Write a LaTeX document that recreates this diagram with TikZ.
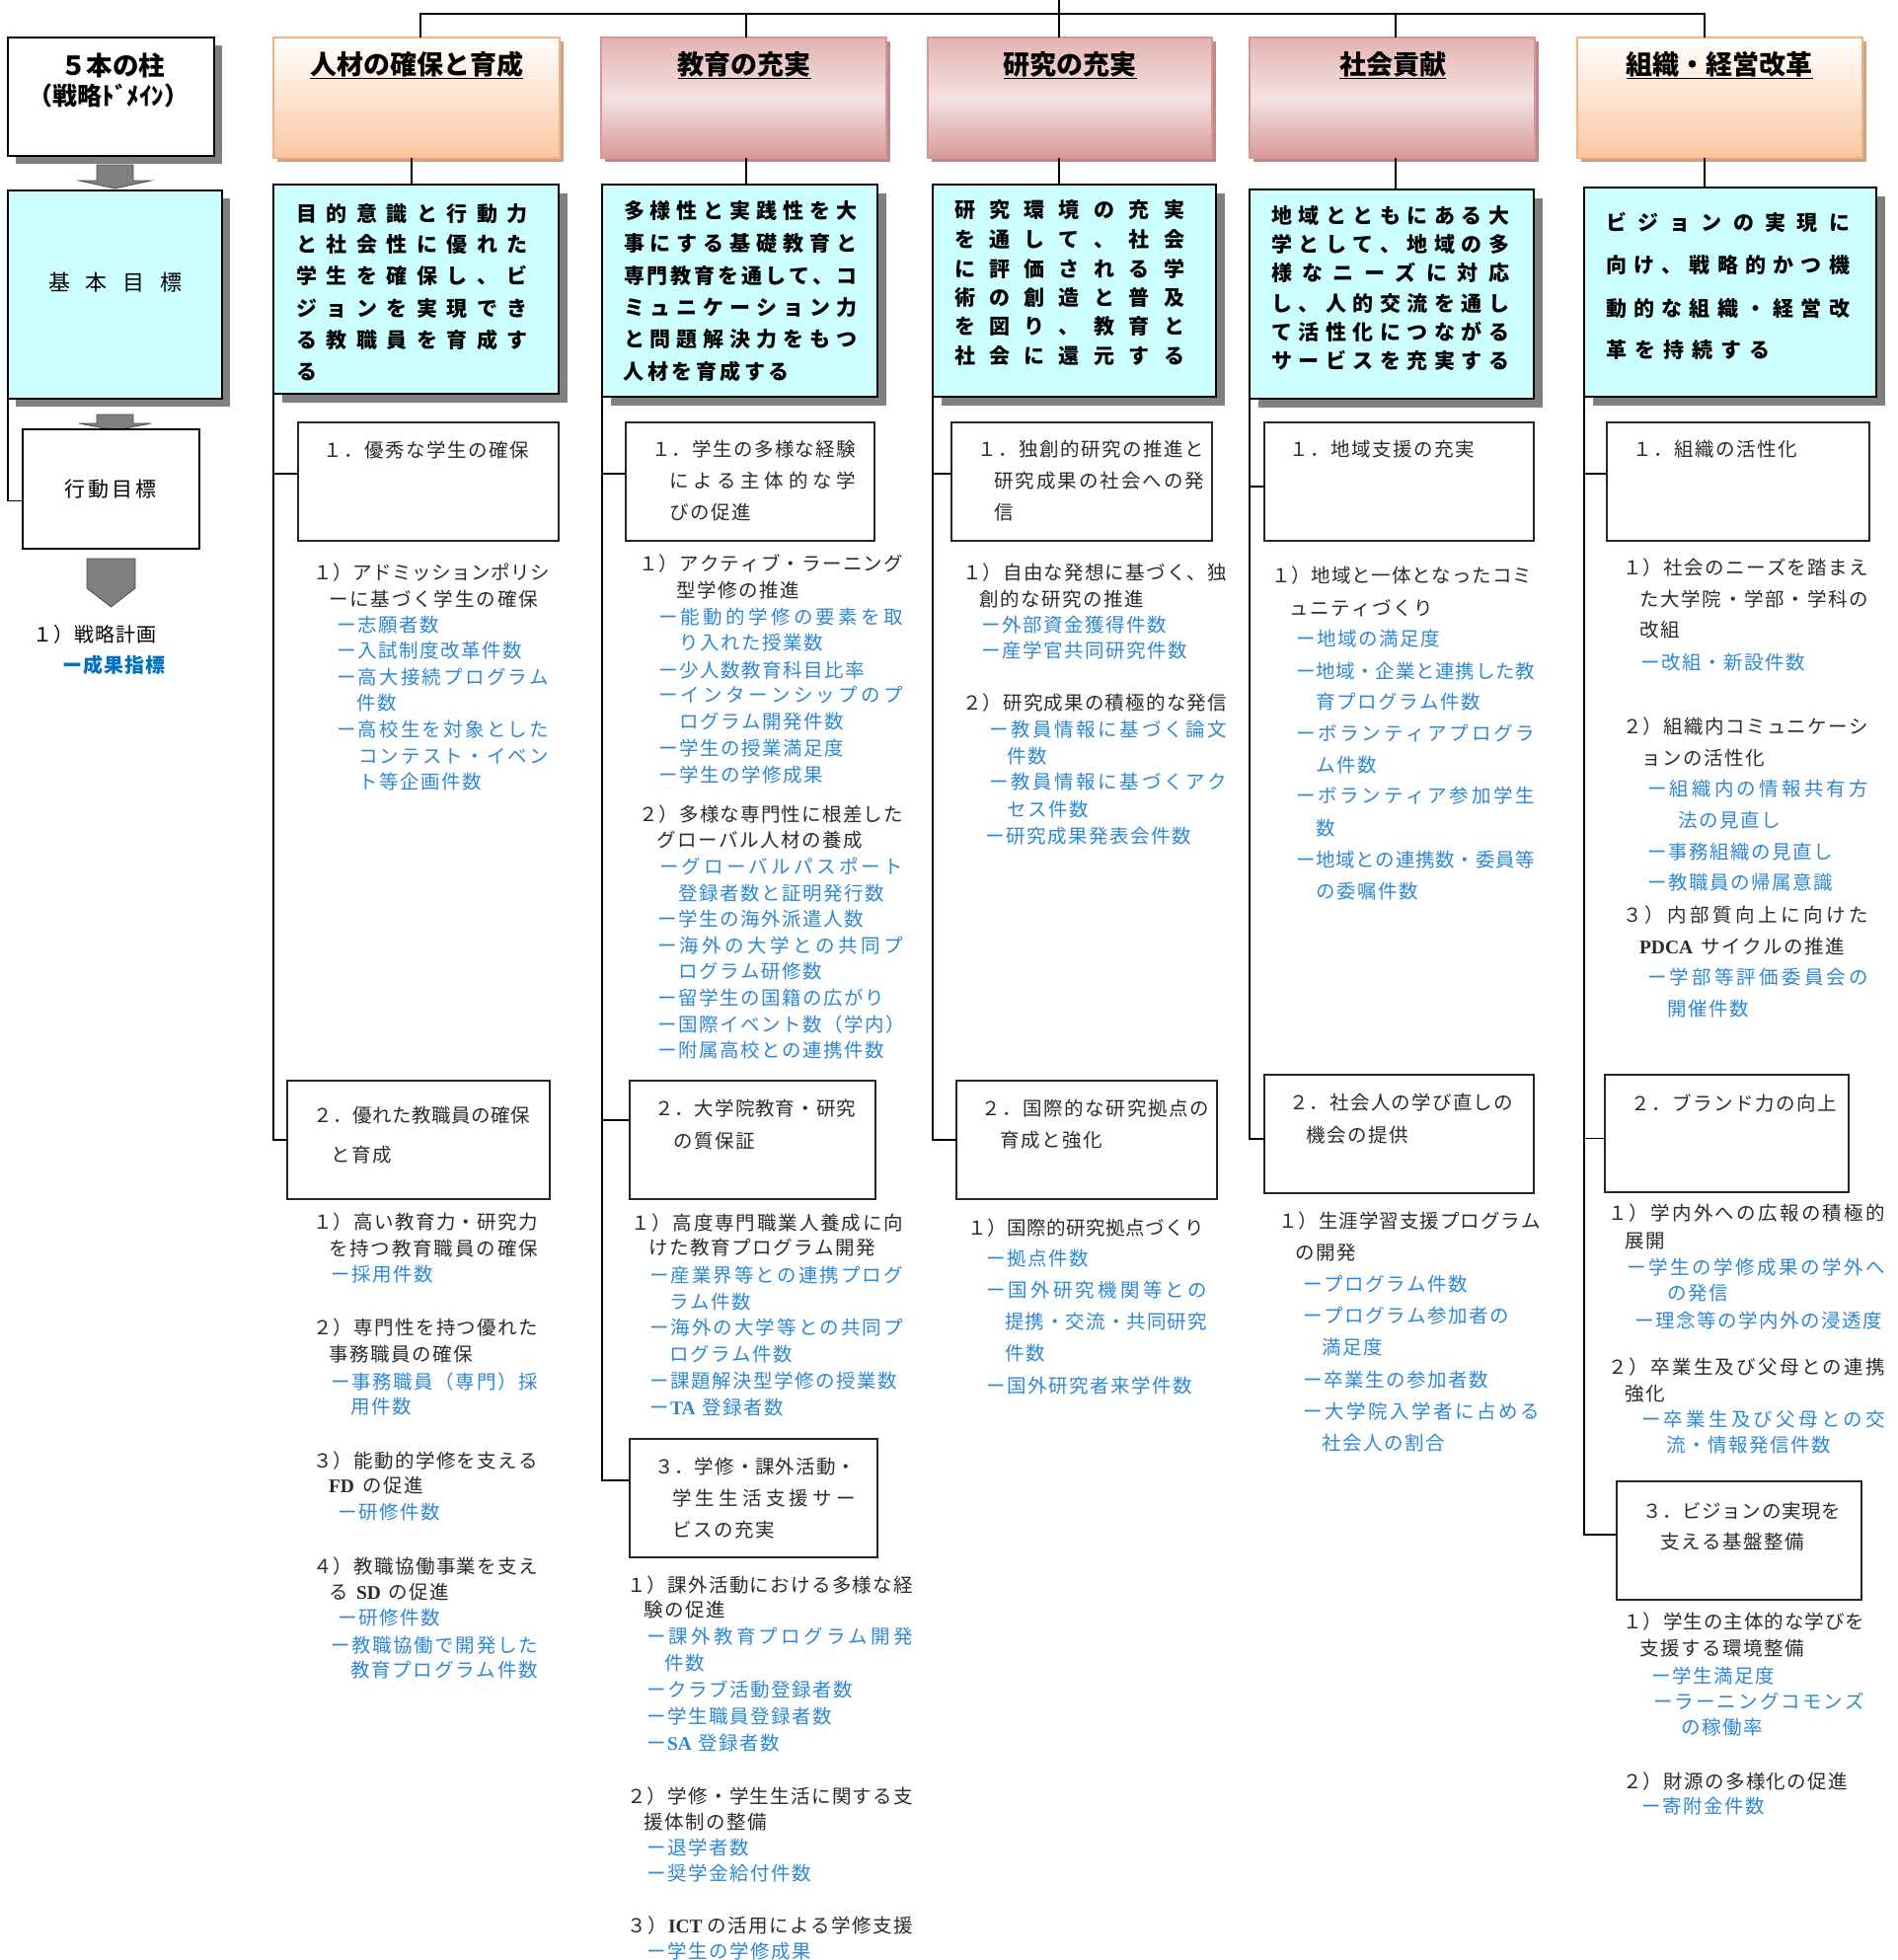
\documentclass[tikz,border=0pt]{standalone}
\usepackage{fontspec}
\setmainfont{Noto Sans CJK JP}
\newfontfamily\latser{Liberation Serif}
\newcommand\latb{\latser\bfseries}
\newcommand\strutx{\vrule width 0pt height 0.88em depth 0.12em\relax}
\makeatletter
\newcommand\cchars[2]{\def\cc@w{#1}\cc@a#2\relax}
\def\cc@a#1{\ifx\relax#1\else\makebox[\cc@w][c]{#1}\expandafter\cc@a\fi}
\newcommand\jchars[2]{\makebox[#1][s]{\jc@a#2\relax}}
\def\jc@a#1{#1\jc@b}
\def\jc@b#1{\ifx\relax#1\else\hfil#1\expandafter\jc@b\fi}
\makeatother
\newcounter{tl}
\newcommand\TC[5]{\stepcounter{tl}\node[#1] (t\arabic{tl}) at (#2,#3) {\strutx\cchars{#4pt}{#5}};}
\newcommand\TN[4]{\TC{#1}{#2}{#3}{21}{#4}}
\newcommand\TJ[5]{\stepcounter{tl}\node[#1] (t\arabic{tl}) at (#2,#3) {\strutx\jchars{\dimexpr #4pt-#2pt\relax}{#5}};}
\newcommand\TP[4]{\stepcounter{tl}\node[#1] (t\arabic{tl}) at (#2,#3) {\strutx #4};}
\newcommand\BX[6]{\node[#6, anchor=north west, minimum width={(#4-#2)*1pt}, minimum height={(#5-#3)*1pt}] (#1) at (#2,#3) {};}
\newcommand\SBX[8]{\fill[#7] ({#2+#8},{#3+#8}) rectangle ({#4+#8},{#5+#8}); \BX{#1}{#2}{#3}{#4}{#5}{#6}}

\definecolor{cyanbox}{HTML}{CCFFFF}
\definecolor{shad}{HTML}{808080}
\definecolor{bluetx}{HTML}{2F88D2}
\definecolor{darkblue}{HTML}{0070C0}
\definecolor{bodytx}{HTML}{2B2B2B}
\definecolor{orgborder}{HTML}{F4B183}
\definecolor{orgbot}{HTML}{F9C7A0}
\definecolor{orgshad}{HTML}{C9A487}
\definecolor{pinkborder}{HTML}{D99694}
\definecolor{pinktop}{HTML}{E4B4B3}
\definecolor{pinkmid}{HTML}{F3E2E2}
\definecolor{pinkbot}{HTML}{D9999A}
\definecolor{pinkshad}{HTML}{B98A8A}
\definecolor{arrowgray}{HTML}{7F7F7F}

\tikzset{
 bk/.style={anchor=west, inner sep=0pt, outer sep=0pt, text=bodytx, font=\fontsize{19.5pt}{21pt}\selectfont},
 bl/.style={bk, text=bluetx},
 gt/.style={anchor=west, inner sep=0pt, outer sep=0pt, text=black, font=\fontsize{21pt}{23pt}\selectfont\bfseries},
 ttl/.style={inner sep=0pt, outer sep=0pt, text=black, font=\fontsize{27pt}{30pt}\selectfont\bfseries},
 bx/.style={draw=black!85, line width=1.3pt, fill=white, inner sep=0pt, outer sep=0pt},
 goalbox/.style={draw=black, line width=2pt, fill=cyanbox, inner sep=0pt, outer sep=0pt},
 hdrO/.style={draw=orgborder, line width=2.2pt, top color=white, bottom color=orgbot, inner sep=0pt, outer sep=0pt},
 hdrP/.style={draw=pinkborder, line width=2.2pt, top color=pinktop, bottom color=pinkbot, middle color=pinkmid, inner sep=0pt, outer sep=0pt},
 link/.style={draw=black, line width=1.5pt},
 ulin/.style={draw=black, line width=1.6pt},
 blkarrow/.style={fill=arrowgray, draw=black!70, line width=0.8pt},
 lt/.style={anchor=west, inner sep=0pt, outer sep=0pt, text=black, font=\fontsize{20pt}{22pt}\selectfont},
}

\begin{document}
\begin{tikzpicture}[x=1pt,y=-1pt]
\useasboundingbox (0,0) rectangle (1922,1986);
\fill[white] (0,0) rectangle (1922,1986);

% ---------------- left column ----------------
\SBX{pillar}{8}{38}{217}{158}{bx, draw=black, line width=2pt}{shad}{8}
\node[inner sep=0pt, font=\fontsize{26.5pt}{28pt}\selectfont\bfseries] (pillarA) at (114,66) {５本の柱};
\node[inner sep=0pt, font=\fontsize{25pt}{27pt}\selectfont\bfseries] (pillarB) at (110,97) {（戦略ﾄﾞﾒｲﾝ）};
\filldraw[blkarrow] (98,167) -- (135,167) -- (135,183) -- (153,183) -- (116.5,191) -- (80,183) -- (98,183) -- cycle;
\SBX{goalL}{8}{193}{225}{404}{goalbox}{shad}{8}
\node[inner sep=0pt, font=\fontsize{22pt}{24pt}\selectfont] (goalLT) at (117,286) {\cchars{38pt}{基本目標}};
\filldraw[blkarrow] (98,420) -- (135,420) -- (135,429) -- (153,429) -- (116.5,436) -- (80,429) -- (98,429) -- cycle;
\BX{act}{23}{435}{202}{556}{bx, draw=black, line width=1.6pt}
\node[inner sep=0pt, font=\fontsize{21pt}{23pt}\selectfont] (actT) at (112,496) {\cchars{24pt}{行動目標}};
\draw[link] (goalL.south west) |- ([yshift=-12pt]act.west);
\filldraw[blkarrow] (88,566) -- (137,566) -- (137,596) -- (112.5,615) -- (88,596) -- cycle;
\node[lt] (plan) at (33,643) {\strutx\cchars{21pt}{１）戦略計画}};
\node[lt, text=darkblue, font=\fontsize{20pt}{22pt}\selectfont\bfseries] (kpi) at (63,674) {\strutx\cchars{21pt}{ー成果指標}};

% ---------------- headers ----------------
\SBX{h1}{277}{38}{567}{160}{hdrO}{orgshad}{4}
\SBX{h2}{609}{38}{898}{160}{hdrP}{pinkshad}{4}
\SBX{h3}{940}{38}{1228}{160}{hdrP}{pinkshad}{4}
\SBX{h4}{1266}{38}{1555}{160}{hdrP}{pinkshad}{4}
\SBX{h5}{1598}{38}{1887}{160}{hdrO}{orgshad}{4}
\node[ttl] (ti1) at (422,65) {\strutx 人材の確保と育成};
\node[ttl] (ti2) at (754,65) {\strutx 教育の充実};
\node[ttl] (ti3) at (1084,65) {\strutx 研究の充実};
\node[ttl] (ti4) at (1411,65) {\strutx 社会貢献};
\node[ttl] (ti5) at (1742,65) {\strutx 組織・経営改革};
\foreach \i in {1,...,5}{\draw[ulin] ([yshift=-1pt]ti\i.south west) -- ([yshift=-1pt]ti\i.south east);}

% ---------------- goal boxes ----------------
\SBX{g1}{277}{187}{566}{399}{goalbox}{shad}{9}
\SBX{g2}{610}{187}{889}{402}{goalbox}{shad}{9}
\SBX{g3}{945}{187}{1232}{402}{goalbox}{shad}{9}
\SBX{g4}{1266}{192}{1554}{404}{goalbox}{shad}{9}
\SBX{g5}{1605}{190}{1901}{402}{goalbox}{shad}{9}

% ---------------- bus connectors ----------------
\coordinate (root) at (1073,0);
\coordinate (c1) at (426,14);
\coordinate (c2) at (756,14);
\coordinate (c3) at (1073,14);
\coordinate (c4) at (1414,14);
\coordinate (c5) at (1727,14);
\coordinate (d1) at (417,14);
\draw[link] (c1 |- h1.north) -- (c1) -- (c5) -- (c5 |- h5.north);
\draw[link] (c2) -- (c2 |- h2.north);
\draw[link] (root) -- (c3 |- h3.north);
\draw[link] (c4) -- (c4 |- h4.north);
\draw[link] (d1 |- h1.south) -- (d1 |- g1.north);
\draw[link] (c2 |- h2.south) -- (c2 |- g2.north);
\draw[link] (c3 |- h3.south) -- (c3 |- g3.north);
\draw[link] (c4 |- h4.south) -- (c4 |- g4.north);
\draw[link] (c5 |- h5.south) -- (c5 |- g5.north);

% goal texts
\TJ{gt}{300}{217}{535}{目的意識と行動力}
\TJ{gt}{300}{248}{535}{と社会性に優れた}
\TJ{gt}{300}{280}{535}{学生を確保し、ビ}
\TJ{gt}{300}{313}{535}{ジョンを実現でき}
\TJ{gt}{300}{345}{535}{る教職員を育成す}
\TC{gt}{300}{377}{22}{る}

\TJ{gt}{632}{214}{868}{多様性と実践性を大}
\TJ{gt}{632}{247}{868}{事にする基礎教育と}
\TJ{gt}{632}{280}{868}{専門教育を通して、コ}
\TJ{gt}{632}{312}{868}{ミュニケーション力}
\TJ{gt}{632}{344}{868}{と問題解決力をもつ}
\TC{gt}{630}{377}{24.5}{人材を育成する}

\TJ{gt}{967}{213}{1200}{研究環境の充実}
\TJ{gt}{967}{243}{1200}{を通して、社会}
\TJ{gt}{967}{273}{1200}{に評価される学}
\TJ{gt}{967}{302}{1200}{術の創造と普及}
\TJ{gt}{967}{331}{1200}{を図り、教育と}
\TJ{gt}{967}{361}{1200}{社会に還元する}

\TJ{gt}{1288}{219}{1529}{地域とともにある大}
\TJ{gt}{1288}{248}{1529}{学として、地域の多}
\TJ{gt}{1288}{277}{1529}{様なニーズに対応}
\TJ{gt}{1288}{308}{1529}{し、人的交流を通し}
\TJ{gt}{1288}{337}{1529}{て活性化につながる}
\TJ{gt}{1288}{366}{1529}{サービスを充実する}

\TJ{gt}{1627}{226}{1874}{ビジョンの実現に}
\TJ{gt}{1627}{269}{1874}{向け、戦略的かつ機}
\TJ{gt}{1627}{313}{1874}{動的な組織・経営改}
\TC{gt}{1623}{355}{29}{革を持続する}

% ---------------- column 1 ----------------
\BX{b11}{302}{428}{566}{548}{bx}
\BX{b12}{291}{1095}{557}{1215}{bx}
\draw[link] (g1.south west) |- ([yshift=8pt]b11.west);
\draw[link] (g1.south west) |- (b12.west);
\TN{bk}{327}{456}{１．優秀な学生の確保}
\TJ{bk}{317}{580}{557}{１）アドミッションポリシ}
\TJ{bk}{333}{607}{545}{ーに基づく学生の確保}
\TN{bl}{341}{633}{ー志願者数}
\TN{bl}{341}{659}{ー入試制度改革件数}
\TJ{bl}{341}{686}{556}{ー高大接続プログラム}
\TN{bl}{361}{712}{件数}
\TJ{bl}{341}{739}{556}{ー高校生を対象とした}
\TJ{bl}{363}{766}{556}{コンテスト・イベン}
\TN{bl}{363}{792}{ト等企画件数}
\TJ{bk}{317}{1130}{537}{２．優れた教職員の確保}
\TN{bk}{335}{1170}{と育成}
\TJ{bk}{317}{1238}{545}{１）高い教育力・研究力}
\TJ{bk}{333}{1265}{545}{を持つ教育職員の確保}
\TN{bl}{335}{1291}{ー採用件数}
\TJ{bk}{317}{1345}{545}{２）専門性を持つ優れた}
\TN{bk}{333}{1372}{事務職員の確保}
\TJ{bl}{335}{1400}{545}{ー事務職員（専門）採}
\TN{bl}{355}{1425}{用件数}
\TJ{bk}{317}{1480}{545}{３）能動的学修を支える}
\TP{bk}{333}{1505}{{\latb FD}\hspace{8pt}\cchars{21pt}{の促進}}
\TN{bl}{342}{1532}{ー研修件数}
\TJ{bk}{317}{1587}{545}{４）教職協働事業を支え}
\TP{bk}{333}{1613}{\cchars{21pt}{る}\hspace{7pt}{\latb SD}\hspace{7pt}\cchars{21pt}{の促進}}
\TN{bl}{342}{1639}{ー研修件数}
\TJ{bl}{335}{1667}{545}{ー教職協働で開発した}
\TJ{bl}{355}{1692}{545}{教育プログラム件数}

% ---------------- column 2 ----------------
\BX{b21}{634}{428}{886}{548}{bx}
\BX{b22}{638}{1095}{887}{1215}{bx}
\BX{b23}{638}{1458}{889}{1578}{bx}
\draw[link] (g2.south west) |- ([yshift=8pt]b21.west);
\draw[link] (g2.south west) |- ([yshift=20pt]b22.west);
\draw[link] (g2.south west) |- ([yshift=18pt]b23.west);
\TJ{bk}{660}{455}{867}{１．学生の多様な経験}
\TJ{bk}{678}{487}{867}{による主体的な学}
\TN{bk}{678}{519}{びの促進}
\TJ{bk}{647}{571}{915}{１）アクティブ・ラーニング}
\TN{bk}{685}{598}{型学修の推進}
\TJ{bl}{667}{625}{915}{ー能動的学修の要素を取}
\TN{bl}{688}{651}{り入れた授業数}
\TN{bl}{667}{679}{ー少人数教育科目比率}
\TJ{bl}{667}{704}{915}{ーインターンシップのプ}
\TN{bl}{688}{731}{ログラム開発件数}
\TN{bl}{667}{758}{ー学生の授業満足度}
\TN{bl}{667}{785}{ー学生の学修成果}
\TJ{bk}{647}{825}{915}{２）多様な専門性に根差した}
\TN{bk}{665}{851}{グローバル人材の養成}
\TJ{bl}{668}{878}{915}{ーグローバルパスポート}
\TN{bl}{687}{905}{登録者数と証明発行数}
\TN{bl}{666}{931}{ー学生の海外派遣人数}
\TJ{bl}{666}{958}{915}{ー海外の大学との共同プ}
\TN{bl}{687}{984}{ログラム研修数}
\TN{bl}{666}{1011}{ー留学生の国籍の広がり}
\TN{bl}{666}{1038}{ー国際イベント数（学内）}
\TN{bl}{666}{1064}{ー附属高校との連携件数}
\TJ{bk}{663}{1123}{867}{２．大学院教育・研究}
\TN{bk}{682}{1156}{の質保証}
\TJ{bk}{639}{1239}{915}{１）高度専門職業人養成に向}
\TN{bk}{657}{1264}{けた教育プログラム開発}
\TJ{bl}{658}{1292}{915}{ー産業界等との連携プログ}
\TN{bl}{678}{1319}{ラム件数}
\TJ{bl}{658}{1345}{915}{ー海外の大学等との共同プ}
\TN{bl}{678}{1372}{ログラム件数}
\TN{bl}{658}{1399}{ー課題解決型学修の授業数}
\TP{bl}{658}{1426}{\cchars{21pt}{ー}{\latb TA}\hspace{6pt}\cchars{21pt}{登録者数}}
\TJ{bk}{663}{1486}{867}{３．学修・課外活動・}
\TJ{bk}{681}{1518}{867}{学生生活支援サー}
\TN{bk}{681}{1550}{ビスの充実}
\TJ{bk}{635}{1606}{925}{１）課外活動における多様な経}
\TN{bk}{652}{1631}{験の促進}
\TJ{bl}{655}{1658}{925}{ー課外教育プログラム開発}
\TN{bl}{673}{1685}{件数}
\TN{bl}{655}{1712}{ークラブ活動登録者数}
\TN{bl}{655}{1739}{ー学生職員登録者数}
\TP{bl}{655}{1766}{\cchars{21pt}{ー}{\latb SA}\hspace{6pt}\cchars{21pt}{登録者数}}
\TJ{bk}{635}{1820}{925}{２）学修・学生生活に関する支}
\TN{bk}{652}{1846}{援体制の整備}
\TN{bl}{655}{1872}{ー退学者数}
\TN{bl}{655}{1898}{ー奨学金給付件数}
\TP{bk}{635}{1951}{\cchars{21pt}{３）}{\latb ICT}\hspace{4pt}\cchars{21pt}{の活用による学修支援}}
\TN{bl}{655}{1977}{ー学生の学修成果}

% ---------------- column 3 ----------------
\BX{b31}{964}{428}{1228}{548}{bx}
\BX{b32}{969}{1095}{1233}{1215}{bx}
\draw[link] (g3.south west) |- ([yshift=8pt]b31.west);
\draw[link] (g3.south west) |- (b32.west);
\TJ{bk}{990}{455}{1220}{１．独創的研究の推進と}
\TJ{bk}{1007}{487}{1220}{研究成果の社会への発}
\TN{bk}{1007}{519}{信}
\TJ{bk}{975}{580}{1243}{１）自由な発想に基づく、独}
\TN{bk}{992}{607}{創的な研究の推進}
\TN{bl}{994}{633}{ー外部資金獲得件数}
\TN{bl}{994}{659}{ー産学官共同研究件数}
\TJ{bk}{975}{712}{1243}{２）研究成果の積極的な発信}
\TJ{bl}{1002}{739}{1243}{ー教員情報に基づく論文}
\TN{bl}{1020}{766}{件数}
\TJ{bl}{1002}{792}{1243}{ー教員情報に基づくアク}
\TN{bl}{1020}{820}{セス件数}
\TN{bl}{998}{847}{ー研究成果発表会件数}
\TJ{bk}{994}{1123}{1225}{２．国際的な研究拠点の}
\TN{bk}{1013}{1155}{育成と強化}
\TJ{bk}{980}{1244}{1220}{１）国際的研究拠点づくり}
\TN{bl}{999}{1275}{ー拠点件数}
\TJ{bl}{999}{1307}{1223}{ー国外研究機関等との}
\TJ{bl}{1018}{1339}{1223}{提携・交流・共同研究}
\TN{bl}{1018}{1371}{件数}
\TN{bl}{999}{1404}{ー国外研究者来学件数}

% ---------------- column 4 ----------------
\BX{b41}{1281}{428}{1554}{548}{bx}
\BX{b42}{1281}{1089}{1554}{1209}{bx}
\draw[link] (g4.south west) |- ([yshift=-5pt]b41.west);
\draw[link] (g4.south west) |- ([yshift=-5pt]b42.west);
\TN{bk}{1306}{455}{１．地域支援の充実}
\TJ{bk}{1288}{583}{1552}{１）地域と一体となったコミ}
\TN{bk}{1306}{616}{ュニティづくり}
\TN{bl}{1313}{647}{ー地域の満足度}
\TJ{bl}{1313}{680}{1555}{ー地域・企業と連携した教}
\TN{bl}{1333}{711}{育プログラム件数}
\TJ{bl}{1313}{743}{1555}{ーボランティアプログラ}
\TN{bl}{1333}{775}{ム件数}
\TJ{bl}{1313}{806}{1555}{ーボランティア参加学生}
\TN{bl}{1333}{839}{数}
\TJ{bl}{1313}{871}{1555}{ー地域との連携数・委員等}
\TN{bl}{1333}{903}{の委嘱件数}
\TJ{bk}{1306}{1117}{1533}{２．社会人の学び直しの}
\TN{bk}{1323}{1150}{機会の提供}
\TJ{bk}{1295}{1237}{1561}{１）生涯学習支援プログラム}
\TN{bk}{1312}{1269}{の開発}
\TN{bl}{1320}{1301}{ープログラム件数}
\TN{bl}{1320}{1333}{ープログラム参加者の}
\TN{bl}{1339}{1365}{満足度}
\TN{bl}{1320}{1398}{ー卒業生の参加者数}
\TJ{bl}{1320}{1430}{1560}{ー大学院入学者に占める}
\TN{bl}{1339}{1462}{社会人の割合}

% ---------------- column 5 ----------------
\BX{b51}{1628}{428}{1894}{548}{bx}
\BX{b52}{1626}{1089}{1873}{1208}{bx}
\BX{b53}{1638}{1501}{1886}{1621}{bx}
\draw[link] (g5.south west) |- ([yshift=8pt]b51.west);
\draw[link] (g5.south west) |- ([yshift=-5pt]b52.west);
\draw[link] (g5.south west) |- ([yshift=6pt]b53.west);
\TN{bk}{1654}{455}{１．組織の活性化}
\TJ{bk}{1644}{575}{1893}{１）社会のニーズを踏まえ}
\TJ{bk}{1661}{607}{1893}{た大学院・学部・学科の}
\TN{bk}{1661}{638}{改組}
\TN{bl}{1662}{671}{ー改組・新設件数}
\TJ{bk}{1644}{736}{1893}{２）組織内コミュニケーシ}
\TN{bk}{1663}{768}{ョンの活性化}
\TJ{bl}{1669}{799}{1893}{ー組織内の情報共有方}
\TN{bl}{1700}{831}{法の見直し}
\TN{bl}{1669}{863}{ー事務組織の見直し}
\TN{bl}{1669}{894}{ー教職員の帰属意識}
\TJ{bk}{1644}{927}{1893}{３）内部質向上に向けた}
\TP{bk}{1661}{959}{{\latb PDCA}\hspace{8pt}\cchars{21pt}{サイクルの推進}}
\TJ{bl}{1669}{990}{1893}{ー学部等評価委員会の}
\TN{bl}{1689}{1022}{開催件数}
\TN{bk}{1652}{1118}{２．ブランド力の向上}
\TJ{bk}{1629}{1229}{1910}{１）学内外への広報の積極的}
\TN{bk}{1646}{1257}{展開}
\TJ{bl}{1648}{1284}{1910}{ー学生の学修成果の学外へ}
\TN{bl}{1689}{1310}{の発信}
\TJ{bl}{1656}{1338}{1907}{ー理念等の学内外の浸透度}
\TJ{bk}{1629}{1385}{1910}{２）卒業生及び父母との連携}
\TN{bk}{1646}{1412}{強化}
\TJ{bl}{1663}{1438}{1910}{ー卒業生及び父母との交}
\TN{bl}{1688}{1464}{流・情報発信件数}
\TJ{bk}{1664}{1531}{1865}{３．ビジョンの実現を}
\TN{bk}{1682}{1562}{支える基盤整備}
\TJ{bk}{1644}{1643}{1889}{１）学生の主体的な学びを}
\TN{bk}{1661}{1670}{支援する環境整備}
\TN{bl}{1673}{1698}{ー学生満足度}
\TJ{bl}{1675}{1724}{1889}{ーラーニングコモンズ}
\TN{bl}{1703}{1750}{の稼働率}
\TJ{bk}{1644}{1805}{1872}{２）財源の多様化の促進}
\TN{bl}{1663}{1830}{ー寄附金件数}
\end{tikzpicture}
\end{document}
